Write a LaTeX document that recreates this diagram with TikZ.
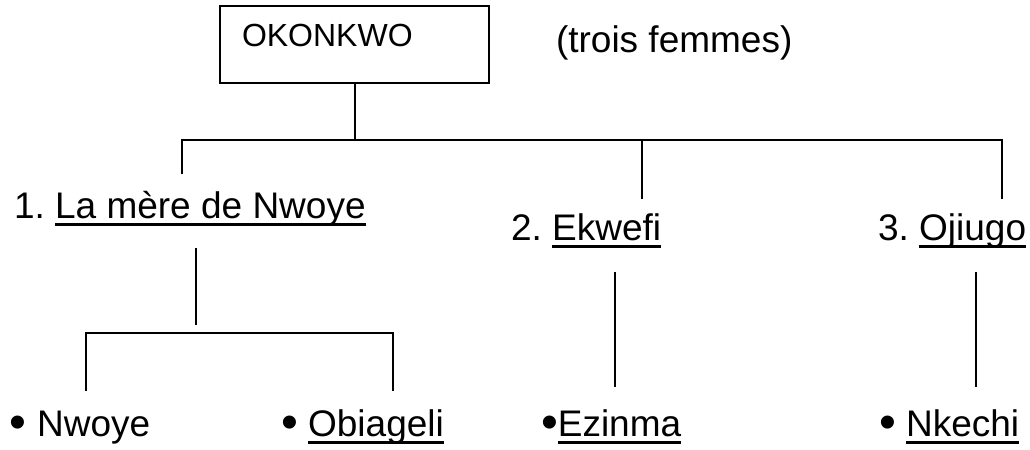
\documentclass[tikz,border=0pt]{standalone}
\usepackage{fontspec}
\setmainfont{Liberation Sans}
\usetikzlibrary{positioning}
\frenchspacing
\newcommand\souligne[1]{\setbox0\hbox{#1}\rlap{\rule[-3.8pt]{\wd0}{1.3pt}}\box0}
\newcommand\puce{\raisebox{-1.2pt}{\scalebox{1.3}{•}}}

\begin{document}
\begin{tikzpicture}[x=0.5pt,y=-0.5pt,line width=1pt,
    nom/.style={anchor=base west,inner sep=0pt,font=\fontsize{18.5}{22}\selectfont},
    chef/.style={draw,minimum width=134.5pt,minimum height=38.5pt,inner sep=0pt}]

    \useasboundingbox (0,0) rectangle (1030,450);

    % --- Nodes ---
    \node[chef] (oko) at (354.5,44.5) {};
    \node[nom,font=\fontsize{16}{19}\selectfont] (okonom) at ([shift={(22,41)}]oko.north west) {OKONKWO};
    \node[nom] (fem) at (555,52) {(trois femmes)};

    \node[nom] (w1) at (13,218) {1. \souligne{La mère de Nwoye}};
    \node[nom] (w2) at (510,240) {2. \souligne{Ekwefi}};
    \node[nom] (w3) at (877,240) {3. \souligne{Ojiugo}};

    \node[nom] (c1) at (9,436) {\puce{} Nwoye};
    \node[nom] (c2) at (280,436) {\puce{} \souligne{Obiageli}};
    \node[nom] (c3) at (540,436) {\puce\souligne{Ezinma}};
    \node[nom] (c4) at (878,436) {\puce{} \souligne{Nkechi}};

    % --- Lines ---
    \coordinate (j0) at (oko.south |- 0,140);
    \coordinate (b2) at (642,140);
    \coordinate (b3) at (1002,140);
    \coordinate (t1) at (182,174);
    \coordinate (t2) at (642,199);
    \coordinate (t3) at (1002,199);
    \draw (oko.south) -- (j0);
    \draw (t1) |- (b3) -- (t3);
    \draw (b2) -- (t2);

    \coordinate (m1) at (196,248);
    \coordinate (m2) at (196,325);
    \coordinate (kb) at (393,333);
    \coordinate (k1) at (86,391);
    \coordinate (k2) at (393,391);
    \draw (m1) -- (m2);
    \draw (k1) |- (kb) -- (k2);

    \coordinate (e1) at (615,272);
    \coordinate (e2) at (615,387);
    \coordinate (o1) at (976,272);
    \coordinate (o2) at (976,387);
    \draw (e1) -- (e2);
    \draw (o1) -- (o2);
\end{tikzpicture}
\end{document}
